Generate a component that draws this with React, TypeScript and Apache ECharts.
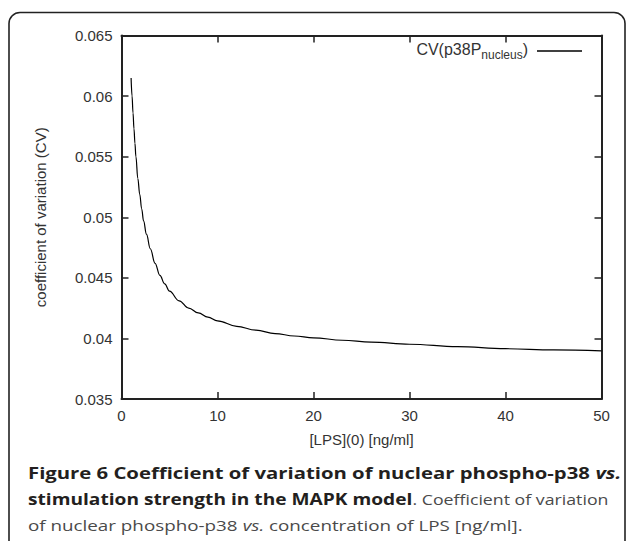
import React, { useEffect, useRef } from "react";
import * as echarts from "echarts";

// [LPS](0) in ng/ml
const lpsValues: number[] = [1.0, 1.1, 1.2, 1.3, 1.4, 1.5, 1.7, 1.9, 2.1, 2.3, 2.6, 3.0, 3.5, 4.0, 4.5, 5.0, 6.0, 7.0, 8.0, 9.0, 10, 12, 14, 16, 18, 20, 23, 26, 30, 35, 40, 45, 50];
// CV(p38P_nucleus)
const cvValues: number[] = [0.0615, 0.06, 0.0586, 0.0573, 0.0561, 0.055, 0.0532, 0.0519, 0.0507, 0.0497, 0.0486, 0.0474, 0.0462, 0.0452, 0.0445, 0.0439, 0.0431, 0.0425, 0.0421, 0.04175, 0.04145, 0.041, 0.04068, 0.0404, 0.0402, 0.04005, 0.03985, 0.0397, 0.03952, 0.03932, 0.03915, 0.03905, 0.03897];

const xTicks = { min: 0, max: 50, interval: 10 };
const yTicks = { min: 0.035, max: 0.065, interval: 0.005 };

const seriesName = "CV(p38P_nucleus)";
const xAxisName = "[LPS](0) [ng/ml]";
const yAxisName = "coefficient of variation (CV)";

const SANS = "'Liberation Sans', Arial, Helvetica, sans-serif";
const CAP = "'Open Sans', 'Noto Sans', sans-serif";

export default function App() {
  const ref = useRef<HTMLDivElement>(null);

  useEffect(() => {
    document.body.style.margin = "0";
    if (!ref.current) return;
    const chart = echarts.init(ref.current, undefined, { renderer: "svg" });
    const axisLine = { show: true, onZero: false, lineStyle: { color: "#222", width: 2 } };
    const axisTick = { show: true, inside: false, length: -7, lineStyle: { color: "#222", width: 1.5 } };
    const label = { fontFamily: SANS, fontSize: 15, color: "#333" };
    const capBold = { fontFamily: CAP, fontSize: 16.5, fill: "#231f20", fontWeight: "bold" };
    const capReg = { fontFamily: CAP, fontSize: 15.3, fill: "#4a4a4a" };

    chart.setOption({
      animation: false,
      grid: { left: 121.5, right: 25.5, top: 35.5, bottom: 142, show: false },
      legend: {
        show: true,
        data: [seriesName],
        right: 40,
        top: 36,
        align: "right",
        icon: "rect",
        itemWidth: 45,
        itemHeight: 1.3,
        formatter: () => "{a|CV(p38P}{s|nucleus}{e|)}",
        textStyle: {
          fontFamily: SANS,
          color: "#333",
          rich: {
            a: { fontFamily: SANS, fontSize: 16, color: "#333", lineHeight: 20, padding: [0, 0, 4, 0] },
            s: { fontFamily: SANS, fontSize: 12, color: "#333", lineHeight: 20, padding: [7, 0, 0, 0] },
            e: { fontFamily: SANS, fontSize: 16, color: "#333", lineHeight: 20, padding: [0, 4, 4, 0] },
          },
        },
      },
      xAxis: [
        {
          type: "value",
          position: "bottom",
          ...xTicks,
          axisLine,
          axisTick,
          splitLine: { show: false },
          axisLabel: { ...label, margin: 9 },
          name: xAxisName,
          nameLocation: "middle",
          nameGap: 33,
          nameTextStyle: { ...label },
        },
        {
          type: "value",
          position: "top",
          ...xTicks,
          axisLine,
          axisTick,
          splitLine: { show: false },
          axisLabel: { show: false },
        },
      ],
      yAxis: [
        {
          type: "value",
          position: "left",
          ...yTicks,
          axisLine,
          axisTick,
          splitLine: { show: false },
          axisLabel: { ...label, margin: 9, formatter: (v: number) => String(+v.toFixed(3)) },
          name: yAxisName,
          nameLocation: "middle",
          nameGap: 74,
          nameTextStyle: { ...label },
        },
        {
          type: "value",
          position: "right",
          ...yTicks,
          axisLine,
          axisTick,
          splitLine: { show: false },
          axisLabel: { show: false },
        },
      ],
      series: [
        {
          name: seriesName,
          type: "line",
          xAxisIndex: 0,
          yAxisIndex: 0,
          data: lpsValues.map((x, i) => [x, cvValues[i]]),
          showSymbol: false,
          smooth: 0.4,
          smoothMonotone: "x",
          color: "#000",
          lineStyle: { color: "#000", width: 1.2 },
        },
      ],
      graphic: [
        {
          type: "rect",
          shape: { x: 9, y: 12.5, width: 616, height: 600, r: 11 },
          style: { fill: "none", stroke: "#222", lineWidth: 1.6 },
          silent: true,
        },
        {
          type: "text",
          x: 28,
          y: 472,
          scaleX: 1.23,
          style: {
            text: "{b|Figure 6 Coefficient of variation of nuclear phospho-p38 }{bi|vs.}",
            verticalAlign: "middle",
            rich: {
              b: { ...capBold },
              bi: { ...capBold, fontStyle: "italic" },
            },
          },
        },
        {
          type: "text",
          x: 28,
          y: 499,
          scaleX: 1.16,
          style: {
            text: "{b|stimulation strength in the MAPK model}{r|. Coefficient of variation}",
            verticalAlign: "middle",
            rich: {
              b: { ...capBold },
              r: { ...capReg },
            },
          },
        },
        {
          type: "text",
          x: 28,
          y: 525,
          scaleX: 1.23,
          style: {
            text: "{r|of nuclear phospho-p38 }{i|vs.}{r| concentration of LPS [ng/ml].}",
            verticalAlign: "middle",
            rich: {
              r: { ...capReg },
              i: { ...capReg, fontStyle: "italic" },
            },
          },
        },
      ],
    });
    return () => chart.dispose();
  }, []);

  return <div ref={ref} style={{ width: 627, height: 541 }} />;
}
